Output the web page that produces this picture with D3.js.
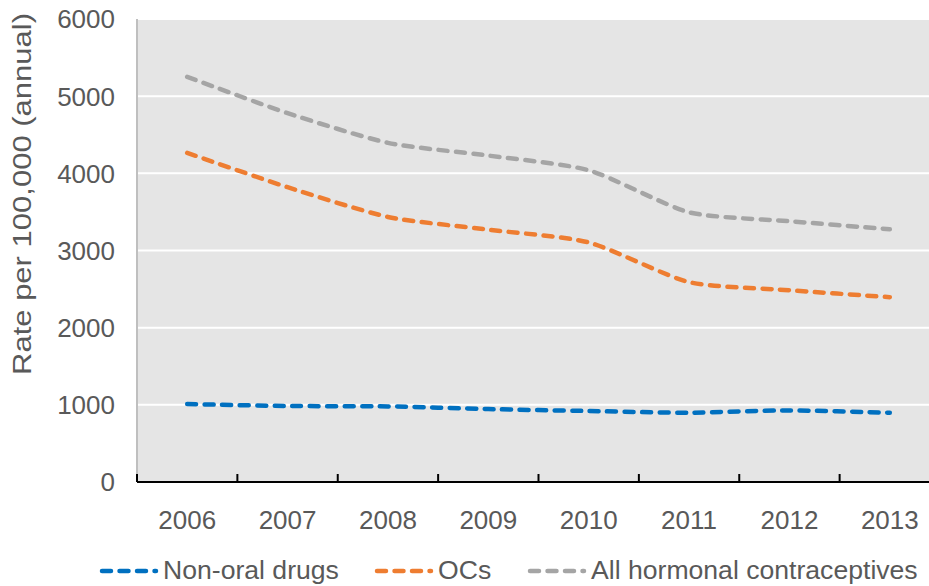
<!DOCTYPE html>
<html>
<head>
<meta charset="utf-8">
<script src="https://cdn.jsdelivr.net/npm/d3@7"></script>
<style>
	body { margin: 0; background: #fff; }
	svg { display: block; font-family: "Liberation Sans", Arial, sans-serif; }
</style>
</head>
<body>
<div id="chart"></div>
<script>
	// Chart data
	let years = ["2006", "2007", "2008", "2009", "2010", "2011", "2012", "2013"];
	let nonOral = [1010, 985, 980, 945, 920, 898, 928, 898];
	let ocs = [4265, 3820, 3435, 3270, 3105, 2590, 2485, 2395];
	let allHormonal = [5250, 4780, 4395, 4230, 4040, 3495, 3380, 3275];
	let yTicks = [0, 1000, 2000, 3000, 4000, 5000, 6000];

	let series = [
		{ name: "Non-oral drugs", values: nonOral, color: "#0070C0" },
		{ name: "OCs", values: ocs, color: "#EE7D31" },
		{ name: "All hormonal contraceptives", values: allHormonal, color: "#A5A5A5" }
	];

	let width = 929;
	let height = 586;
	let margin = { top: 19, right: -11, bottom: 104, left: 137 };
	let chartW = width - margin.left - margin.right;
	let chartH = height - margin.top - margin.bottom;
	let textColor = "#595959";

	let svg = d3.select("#chart").append("svg").attr("width", width).attr("height", height);
	let chart = svg.append("g").attr("transform", "translate(" + margin.left + "," + margin.top + ")");

	// Scales
	let xScale = d3.scaleBand().domain(years).range([0, chartW]);
	let yScale = d3.scaleLinear().domain([0, 6000]).range([chartH, 0]);

	// Plot background
	chart.append("rect").attr("width", chartW).attr("height", chartH).attr("fill", "#E5E5E5");

	// Gridlines
	chart.selectAll(".grid").data(yTicks.slice(1)).enter().append("line")
		.attr("class", "grid")
		.attr("x1", 0).attr("x2", chartW)
		.attr("y1", function(d) { return yScale(d); })
		.attr("y2", function(d) { return yScale(d); })
		.attr("stroke", "#fff").attr("stroke-width", 2);

	// Left axis line
	chart.append("line").attr("x1", 0).attr("x2", 0).attr("y1", 0).attr("y2", chartH)
		.attr("stroke", "#BFBFBF").attr("stroke-width", 2);

	// Y tick labels
	chart.selectAll(".ylab").data(yTicks).enter().append("text")
		.attr("class", "ylab")
		.attr("x", -22)
		.attr("y", function(d) { return yScale(d); })
		.attr("dy", "0.36em")
		.attr("text-anchor", "end")
		.attr("fill", textColor)
		.style("font-size", "26px")
		.text(function(d) { return d; });

	// Bottom axis with inward ticks at band boundaries
	let bounds = years.map(function(d) { return xScale(d); });
	chart.append("line").attr("x1", 0).attr("x2", chartW).attr("y1", chartH).attr("y2", chartH)
		.attr("stroke", "#000").attr("stroke-width", 2);
	chart.selectAll(".xtick").data(bounds).enter().append("line")
		.attr("class", "xtick")
		.attr("x1", function(d) { return d; }).attr("x2", function(d) { return d; })
		.attr("y1", chartH).attr("y2", chartH - 8)
		.attr("stroke", "#000").attr("stroke-width", 2);

	chart.selectAll(".xlab").data(years).enter().append("text")
		.attr("class", "xlab")
		.attr("x", function(d) { return xScale(d) + xScale.bandwidth() / 2; })
		.attr("y", chartH + 47)
		.attr("text-anchor", "middle")
		.attr("fill", textColor)
		.style("font-size", "26px")
		.text(function(d) { return d; });

	// Y axis title (stretched along its length like the original)
	svg.append("text")
		.attr("transform", "translate(31,194) rotate(-90)")
		.attr("text-anchor", "middle")
		.attr("fill", textColor)
		.attr("textLength", 362)
		.attr("lengthAdjust", "spacingAndGlyphs")
		.style("font-size", "25px")
		.text("Rate per 100,000 (annual)");

	// Lines
	let line = d3.line()
		.x(function(d, i) { return xScale(years[i]) + xScale.bandwidth() / 2; })
		.y(function(d) { return yScale(d); })
		.curve(d3.curveCardinal.tension(0.35));

	chart.selectAll(".series").data(series).enter().append("path")
		.attr("class", "series")
		.attr("d", function(d) { return line(d.values); })
		.attr("fill", "none")
		.attr("stroke", function(d) { return d.color; })
		.attr("stroke-width", 4.5)
		.attr("stroke-linecap", "round")
		.attr("stroke-dasharray", "9 8.5");

	// Legend
	let legendPos = [100, 375, 528];
	let legend = svg.selectAll(".legend").data(series).enter().append("g")
		.attr("class", "legend")
		.attr("transform", function(d, i) { return "translate(" + legendPos[i] + ",571)"; });

	legend.append("line")
		.attr("x1", 2).attr("x2", 56).attr("y1", 0).attr("y2", 0)
		.attr("stroke", function(d) { return d.color; })
		.attr("stroke-width", 4.5)
		.attr("stroke-linecap", "round")
		.attr("stroke-dasharray", "9 8.5");

	legend.append("text")
		.attr("x", 63).attr("y", 8)
		.attr("fill", textColor)
		.style("font-size", "26.6px")
		.text(function(d) { return d.name; });
</script>
</body>
</html>
